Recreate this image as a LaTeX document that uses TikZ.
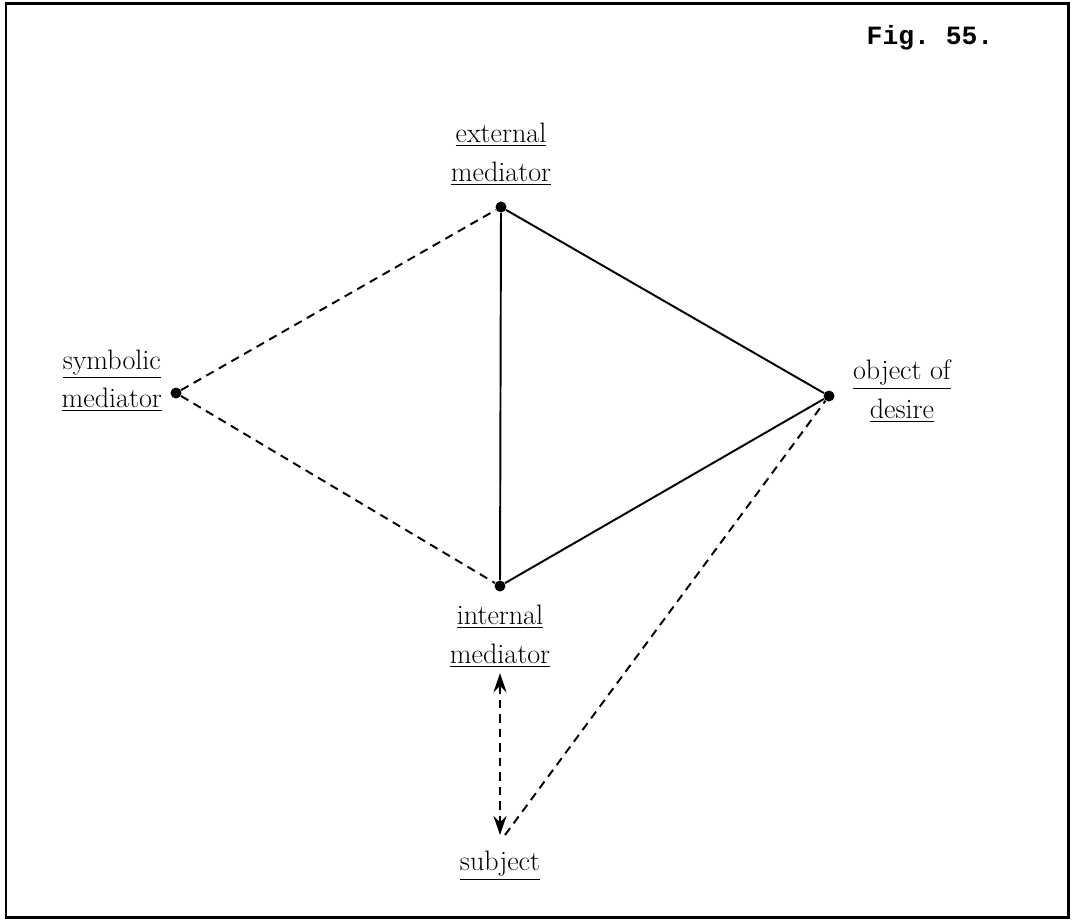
\documentclass[tikz,border=0pt]{standalone}
\usepackage{fontspec}
\setmonofont{Liberation Mono}
\usetikzlibrary{arrows.meta,positioning}

\tikzset{
  pt/.style={circle,fill,inner sep=0pt,minimum size=0.22cm},
  lab/.style={align=center,font=\fontsize{16}{22}\selectfont},
  solidline/.style={line width=1.1pt},
  dashline/.style={line width=1.1pt,dash pattern=on 0.17cm off 0.12cm},
}

\begin{document}
\begin{tikzpicture}[x=0.02cm,y=-0.02cm,>={Stealth[length=0.38cm,width=0.26cm]}]
\useasboundingbox (0,0) rectangle (1072,921);
\draw[line width=1.7pt](6,3) rectangle (1068,917);
\node[font=\ttfamily\bfseries\fontsize{15}{18}\selectfont] (fig) at (930,38) {Fig. 55.};
% the four points of the diagram and the subject's end point
\node[pt] (ext) at (501,207) {};
\node[pt] (sym) at (176,393) {};
\node[pt] (obj) at (829,396) {};
\node[pt] (int) at (500,586) {};
\coordinate (subj) at (500,835);
% names
\node[lab,above=0.2cm of ext] (extlab) {\underline{external}\\\underline{mediator}};
\node[lab,left=0.04cm of sym,yshift=0.25cm] (symlab) {\underline{symbolic}\\\underline{mediator}};
\node[lab,right=0.24cm of obj,yshift=0.1cm] (objlab) {\underline{object of}\\\underline{desire}};
\node[lab,below=0.14cm of int] (intlab) {\underline{internal}\\\underline{mediator}};
\node[lab,below=0.2cm of subj] (subjlab) {\underline{subject}};
% connections
\draw[solidline](ext)--(int);
\draw[solidline](ext)--(obj);
\draw[solidline](int)--(obj);
\draw[dashline](sym)--(ext);
\draw[dashline](sym)--(int);
\draw[dashline]([xshift=0.1cm]subj)--(obj);
\draw[dashline,<->](intlab.south)--(subj);
\end{tikzpicture}
\end{document}
